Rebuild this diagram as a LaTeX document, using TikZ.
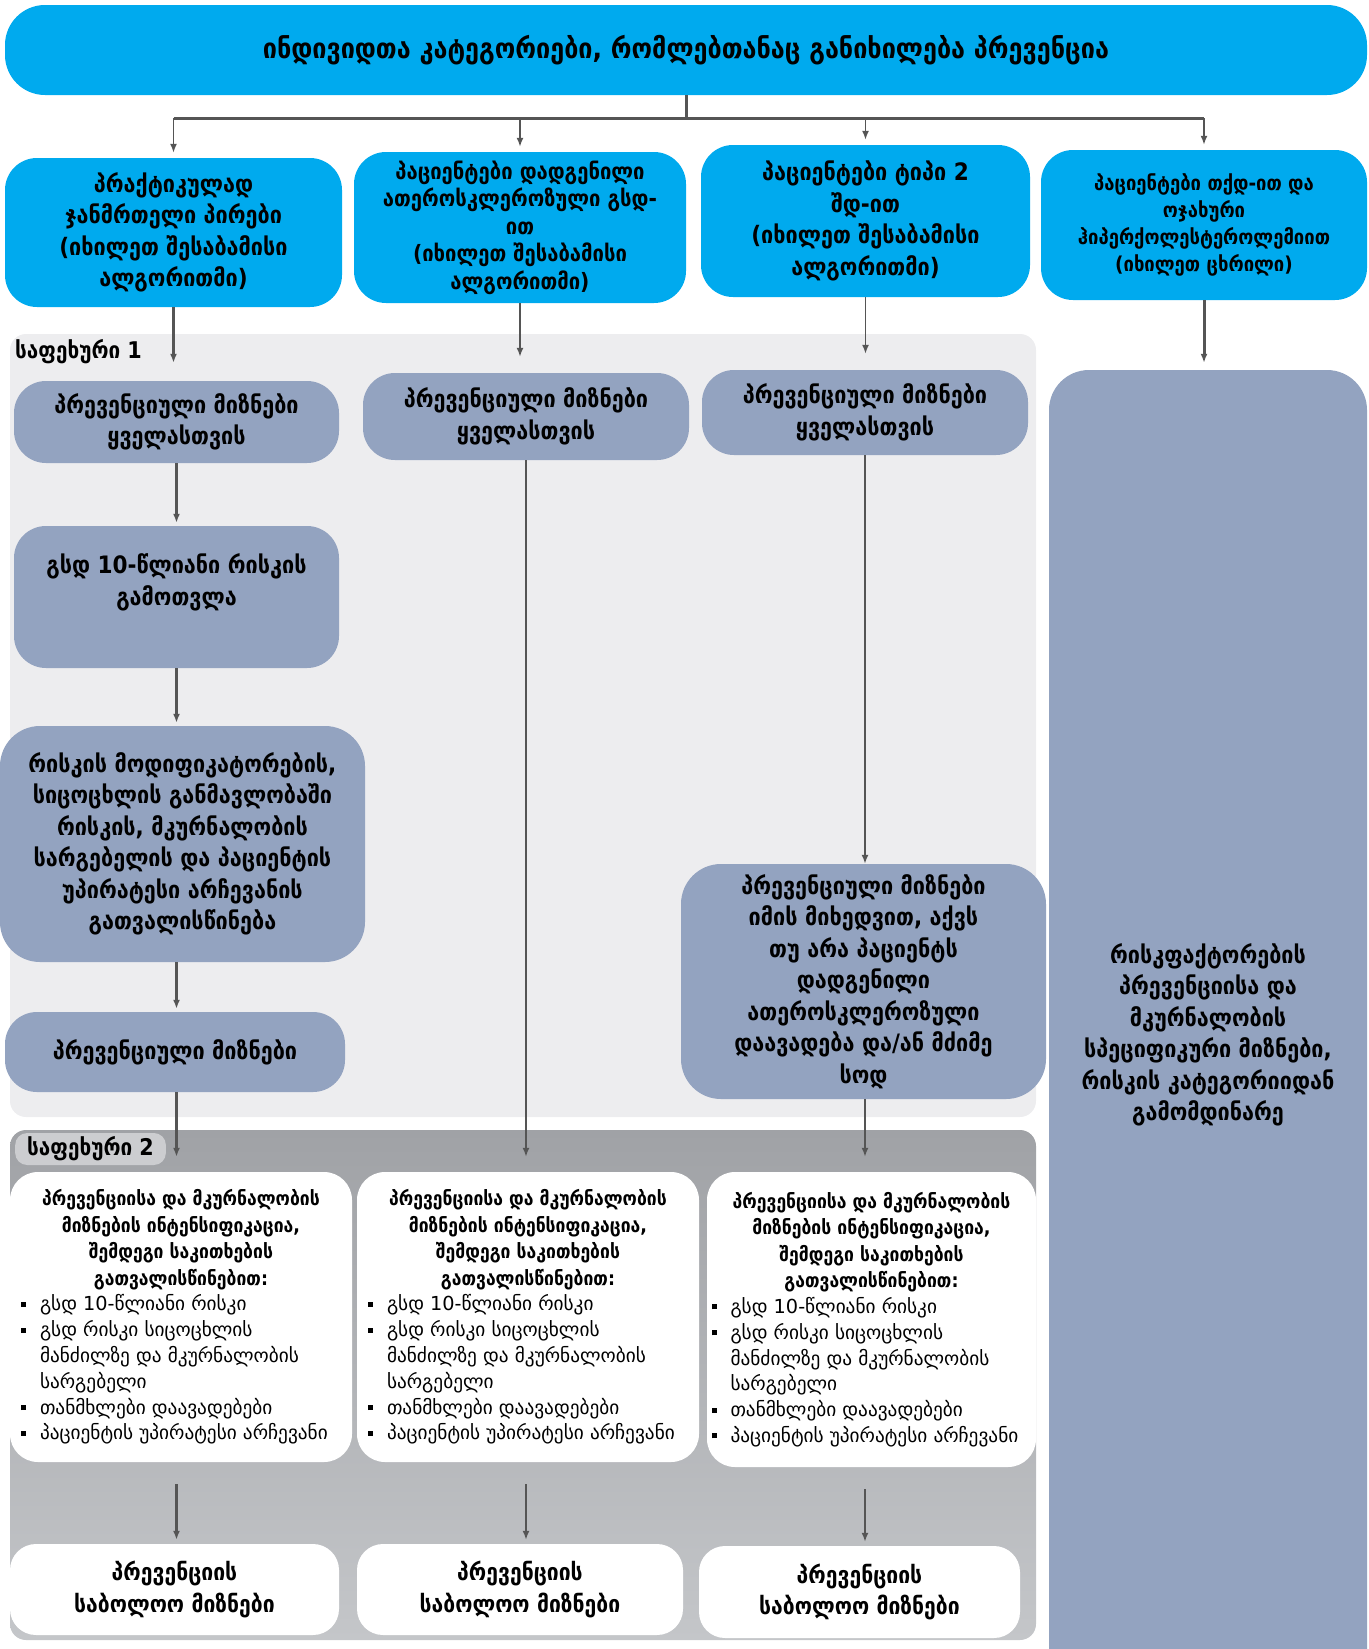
\documentclass[tikz,border=0pt]{standalone}
\usepackage{fontspec}
\setmainfont{DejaVu Sans}[BoldFeatures={FakeStretch=0.9}]
\usetikzlibrary{arrows.meta,calc}
\definecolor{topblue}{RGB}{0,170,238}
\definecolor{slate}{RGB}{147,163,192}
\definecolor{panelA}{RGB}{237,237,239}
\definecolor{panelBt}{RGB}{160,162,166}
\definecolor{panelBb}{RGB}{196,198,201}
\definecolor{tabgray}{RGB}{204,205,208}
\definecolor{linegray}{RGB}{85,85,85}
\newcommand{\fT}{\fontsize{28}{32}\selectfont\bfseries}
\newcommand{\fA}{\fontsize{24}{31.5}\selectfont\bfseries}
\newcommand{\fBb}{\fontsize{22.5}{27.5}\selectfont\bfseries}
\newcommand{\fBd}{\fontsize{20.5}{27}\selectfont\bfseries}
\newcommand{\fS}{\fontsize{23}{30}\selectfont\bfseries}
\newcommand{\fH}{\fontsize{19.5}{26.5}\selectfont\bfseries}
\newcommand{\fL}{\fontsize{19.3}{25.8}\selectfont\mdseries}
\newcommand{\fF}{\fontsize{23.5}{31.5}\selectfont\bfseries}
\newcommand{\bl}[1]{\par\noindent\hangindent=19pt\hangafter=1\makebox[19pt][l]{\raisebox{4pt}{\rule{5pt}{5pt}}}#1}
\newcommand{\wtext}{\begin{minipage}{320pt}\centering\fH
პრევენციისა და მკურნალობის\\მიზნების ინტენსიფიკაცია,\\შემდეგი საკითხების\\გათვალისწინებით:\par
\raggedright\fL
\bl{გსდ 10-წლიანი რისკი}%
\bl{გსდ რისკი სიცოცხლის\newline მანძილზე და მკურნალობის\newline სარგებელი}%
\bl{თანმხლები დაავადებები}%
\bl{პაციენტის უპირატესი არჩევანი}\par
\end{minipage}}
\begin{document}
\begin{tikzpicture}[x=1pt,y=-1pt,
  box/.style={rounded corners=32pt, inner sep=0pt, align=center, text=black},
  bluebox/.style={box, fill=topblue},
  slatebox/.style={box, fill=slate, font=\fA},
  whitebox/.style={box, fill=white, rounded corners=28pt},
  finalbox/.style={box, fill=white, rounded corners=26pt, font=\fF},
  conn/.style={draw=linegray, line width=1.6pt, -{Latex[length=9pt,width=7pt]}},
  connthick/.style={conn, line width=3pt},
  hline/.style={draw=linegray, line width=3pt},
]
\useasboundingbox (0,0) rectangle (1368,1649);

% panels
\node[fill=panelA, rounded corners=16pt, minimum width=1026pt, minimum height=783pt, inner sep=0pt] (stage1) at (523,725.5) {};
\node[top color=panelBt, bottom color=panelBb, rounded corners=16pt, minimum width=1026pt, minimum height=510pt, inner sep=0pt] (stage2) at (523,1385) {};
\node[anchor=west, inner sep=0pt, font=\fS] (s1) at (15,352) {საფეხური 1};
\node[anchor=west, fill=tabgray, rounded corners=12pt, inner xsep=12pt, inner ysep=0pt, minimum height=32pt, font=\fS] (s2) at (15,1149) {საფეხური 2};

% top
\node[bluebox, minimum width=1362pt, minimum height=90pt, rounded corners=40pt, font=\fT] (top) at (686,50) {ინდივიდთა კატეგორიები, რომლებთანაც განიხილება პრევენცია};

% row 2
\node[bluebox, minimum width=337pt, minimum height=149pt, font=\fA] (b1) at (173.5,232.5) {პრაქტიკულად\\ჯანმრთელი პირები\\(იხილეთ შესაბამისი\\ალგორითმი)};
\node[bluebox, minimum width=332pt, minimum height=151pt, font=\fBb] (b2) at (520,227.5) {პაციენტები დადგენილი\\ათეროსკლეროზული გსდ-\\ით\\(იხილეთ შესაბამისი\\ალგორითმი)};
\node[bluebox, minimum width=329pt, minimum height=152pt, font=\fA] (b3) at (865.5,221) {პაციენტები ტიპი 2\\შდ-ით\\(იხილეთ შესაბამისი\\ალგორითმი)};
\node[bluebox, minimum width=326pt, minimum height=150pt, font=\fBd] (b4) at (1204,225) {პაციენტები თქდ-ით და\\ოჯახური\\ჰიპერქოლესტეროლემიით\\(იხილეთ ცხრილი)};

% stage 1 boxes
\node[slatebox, minimum width=325pt, minimum height=82pt] (a1) at (176.5,422) {პრევენციული მიზნები\\ყველასთვის};
\node[slatebox, minimum width=326pt, minimum height=87pt] (a2) at (526,416.5) {პრევენციული მიზნები\\ყველასთვის};
\node[slatebox, minimum width=326pt, minimum height=85pt] (a3) at (865,412.5) {პრევენციული მიზნები\\ყველასთვის};
\node[slatebox, minimum width=325pt, minimum height=142pt] (g1) at (176.5,597) {\begin{minipage}[c][142pt][t]{320pt}\centering\vspace*{28pt}გსდ 10-წლიანი რისკის\\გამოთვლა\end{minipage}};
\node[slatebox, minimum width=365pt, minimum height=236pt, rounded corners=40pt] (m1) at (182.5,844) {რისკის მოდიფიკატორების,\\სიცოცხლის განმავლობაში\\რისკის, მკურნალობის\\სარგებელის და პაციენტის\\უპირატესი არჩევანის\\გათვალისწინება};
\node[slatebox, minimum width=340pt, minimum height=80pt] (p1) at (175,1052) {პრევენციული მიზნები};
\node[slatebox, minimum width=365pt, minimum height=235pt, rounded corners=40pt] (m3) at (863.5,981.5) {პრევენციული მიზნები\\იმის მიხედვით, აქვს\\თუ არა პაციენტს\\დადგენილი\\ათეროსკლეროზული\\დაავადება და/ან მძიმე\\სოდ};
\node[slatebox, minimum width=318pt, minimum height=1330pt, rounded corners=40pt] (r4) at (1208,1035) {რისკფაქტორების\\პრევენციისა და\\მკურნალობის\\სპეციფიკური მიზნები,\\რისკის კატეგორიიდან\\გამომდინარე};

% stage 2 boxes
\node[whitebox, minimum width=342pt, minimum height=290pt] (w1) at (181,1317) {\wtext};
\node[whitebox, minimum width=342pt, minimum height=290pt] (w2) at (528,1317) {\wtext};
\node[whitebox, minimum width=329pt, minimum height=295pt] (w3) at (871.5,1319.5) {\wtext};
\node[finalbox, minimum width=329pt, minimum height=91pt] (f1) at (174.5,1589.5) {პრევენციის\\საბოლოო მიზნები};
\node[finalbox, minimum width=326pt, minimum height=91pt] (f2) at (520,1589.5) {პრევენციის\\საბოლოო მიზნები};
\node[finalbox, minimum width=321pt, minimum height=92pt] (f3) at (859.5,1592) {პრევენციის\\საბოლოო მიზნები};

% top connectors
\coordinate (hub) at (686,118);
\draw[hline] (top.south) -- (hub);
\draw[hline] (b1.north |- hub) -- (b4.north |- hub);
\draw[conn, shorten >=5pt] (b1.north |- hub) -- (b1.north);
\draw[conn, shorten >=5pt] (b2.north |- hub) -- (b2.north);
\draw[conn, shorten >=5pt] (b3.north |- hub) -- (b3.north);
\draw[conn, shorten >=5pt] (b4.north |- hub) -- (b4.north);

% column 1
\draw[connthick, shorten >=18pt] (b1.south) -- (b1.south |- a1.north);
\draw[connthick, shorten >=3pt] (a1.south) -- (a1.south |- g1.north);
\draw[connthick, shorten >=3pt] (g1.south) -- (g1.south |- m1.north);
\draw[connthick, shorten >=3pt] (g1.south |- m1.south) -- (g1.south |- p1.north);
\draw[connthick, shorten >=15pt] (g1.south |- p1.south) -- (g1.south |- w1.north);
\draw[connthick, shorten <=22pt, shorten >=4pt] (g1.south |- w1.south) -- (g1.south |- f1.north);

% column 2
\draw[conn, shorten >=16pt] (b2.south) -- (b2.south |- a2.north);
\draw[conn, shorten >=15pt] (a2.south) -- (a2.south |- w2.north);
\draw[conn, shorten <=22pt, shorten >=4pt] (a2.south |- w2.south) -- (a2.south |- f2.north);

% column 3
\draw[conn, shorten >=16pt] (b3.south) -- (b3.south |- a3.north);
\draw[conn] (a3.south) -- (a3.south |- m3.north);
\draw[conn, shorten >=15pt] (a3.south |- m3.south) -- (a3.south |- w3.north);
\draw[conn, shorten <=22pt, shorten >=4pt] (a3.south |- w3.south) -- (a3.south |- f3.north);

% column 4
\draw[connthick, shorten >=7pt] (b4.south) -- (b4.south |- r4.north);
\end{tikzpicture}
\end{document}
